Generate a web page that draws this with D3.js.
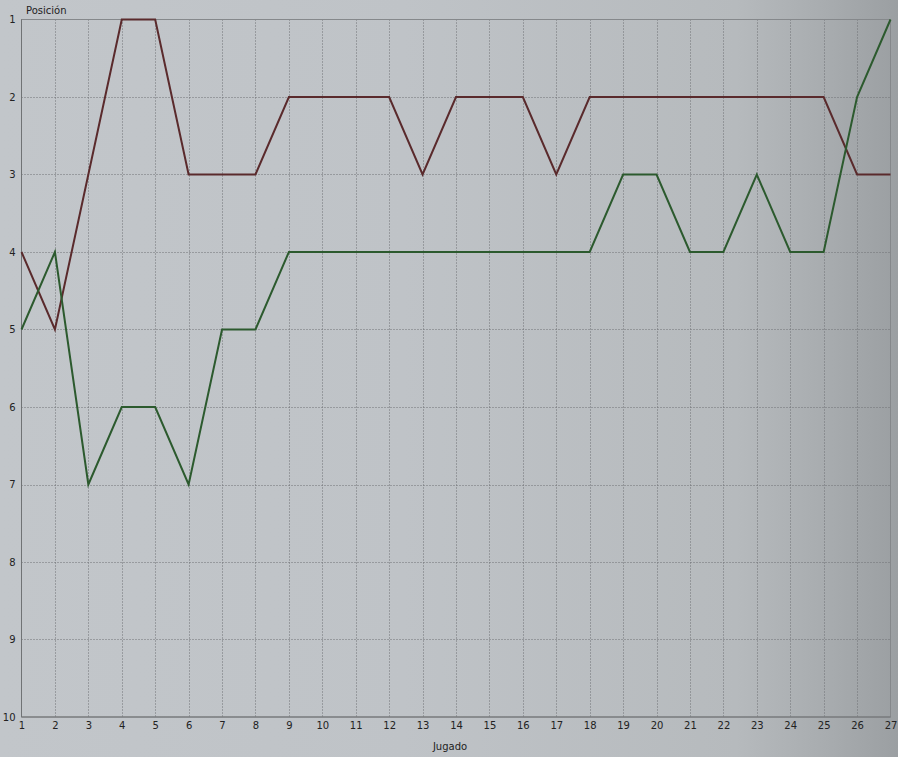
<!DOCTYPE html>
<html><head><meta charset="utf-8">
<script src="https://cdn.jsdelivr.net/npm/d3@7"></script>
<style>body{margin:0;overflow:hidden}svg{display:block}</style>
</head><body>
<script>
const jornadas = d3.range(1, 28);
const posTicks = [1,2,3,4,5,6,7,8,9,10];
const serieRoja = [4,5,3,1,1,3,3,3,2,2,2,2,3,2,2,2,3,2,2,2,2,2,2,2,2,3,3];
const serieVerde = [5,4,7,6,6,7,5,5,4,4,4,4,4,4,4,4,4,4,3,3,4,4,3,4,4,2,1];

const W = 898, H = 757;
const m = {l: 21.5, r: 7.5, t: 19.5, b: 40};
const svg = d3.select("body").append("svg").attr("width", W).attr("height", H);
const defs = svg.append("defs");
const g1 = defs.append("linearGradient").attr("id","bg").attr("x1","0").attr("x2","1").attr("y1","0").attr("y2","0");
g1.append("stop").attr("offset","0").attr("stop-color","#c2c6ca");
g1.append("stop").attr("offset","0.45").attr("stop-color","#bfc3c7");
g1.append("stop").attr("offset","0.82").attr("stop-color","#b6babd");
g1.append("stop").attr("offset","0.92").attr("stop-color","#a8acaf");
g1.append("stop").attr("offset","1").attr("stop-color","#9b9fa2");
svg.append("rect").attr("width",W).attr("height",H).attr("fill","url(#bg)");

const x = d3.scaleLinear().domain([1,27]).range([m.l, W - m.r]);
const y = d3.scaleLinear().domain([1,10]).range([m.t, H - m.b]);

// grid
const grid = svg.append("g");
grid.selectAll("line.v").data(jornadas.slice(1,-1)).join("line")
  .attr("x1", d => Math.round(x(d))+0.5).attr("x2", d => Math.round(x(d))+0.5)
  .attr("y1", y(1)).attr("y2", y(10))
  .attr("stroke","#6e7174").attr("stroke-dasharray","1,2").attr("stroke-width",1);
grid.selectAll("line.h").data(posTicks.slice(1,-1)).join("line")
  .attr("y1", d => Math.round(y(d))+0.5).attr("y2", d => Math.round(y(d))+0.5)
  .attr("x1", x(1)).attr("x2", x(27))
  .attr("stroke","#6e7174").attr("stroke-dasharray","1,2").attr("stroke-width",1);

// frame
svg.append("rect").attr("x", x(1)).attr("y", y(1)).attr("width", x(27)-x(1)).attr("height", y(10)-y(1))
  .attr("fill","none").attr("stroke","#85888b").attr("stroke-width",1);
svg.append("line").attr("x1",x(1)).attr("x2",x(1)).attr("y1",y(1)).attr("y2",y(10)).attr("stroke","#707375");
svg.append("line").attr("x1",x(1)).attr("x2",x(27)).attr("y1",y(10)).attr("y2",y(10)).attr("stroke","#707375");

// axes
const xAxis = svg.append("g").attr("transform", `translate(0,${y(10)})`)
  .call(d3.axisBottom(x).tickValues(jornadas).tickFormat(d3.format("d")).tickSize(0).tickPadding(5));
const yAxis = svg.append("g").attr("transform", `translate(${x(1)},0)`)
  .call(d3.axisLeft(y).tickValues(posTicks).tickFormat(d3.format("d")).tickSize(0).tickPadding(6));
[xAxis, yAxis].forEach(a => {
  a.select(".domain").remove();
  a.selectAll("text").attr("font-family","DejaVu Sans").attr("font-size","10px").attr("fill","#222");
});

svg.append("text").attr("x", 26).attr("y", 14).text("Posición")
  .attr("font-family","DejaVu Sans").attr("font-size","10px").attr("fill","#222");
svg.append("text").attr("x", 450).attr("y", 750).attr("text-anchor","middle").text("Jugado")
  .attr("font-family","DejaVu Sans").attr("font-size","10px").attr("fill","#222");

const line = d3.line().x((d,i) => x(jornadas[i])).y(d => y(d));
svg.append("path").datum(serieRoja).attr("d", line).attr("fill","none")
  .attr("stroke","#5a2a2c").attr("stroke-width",2).attr("stroke-linejoin","miter");
svg.append("path").datum(serieVerde).attr("d", line).attr("fill","none")
  .attr("stroke","#2c5a2e").attr("stroke-width",2).attr("stroke-linejoin","miter");
</script>
</body></html>
